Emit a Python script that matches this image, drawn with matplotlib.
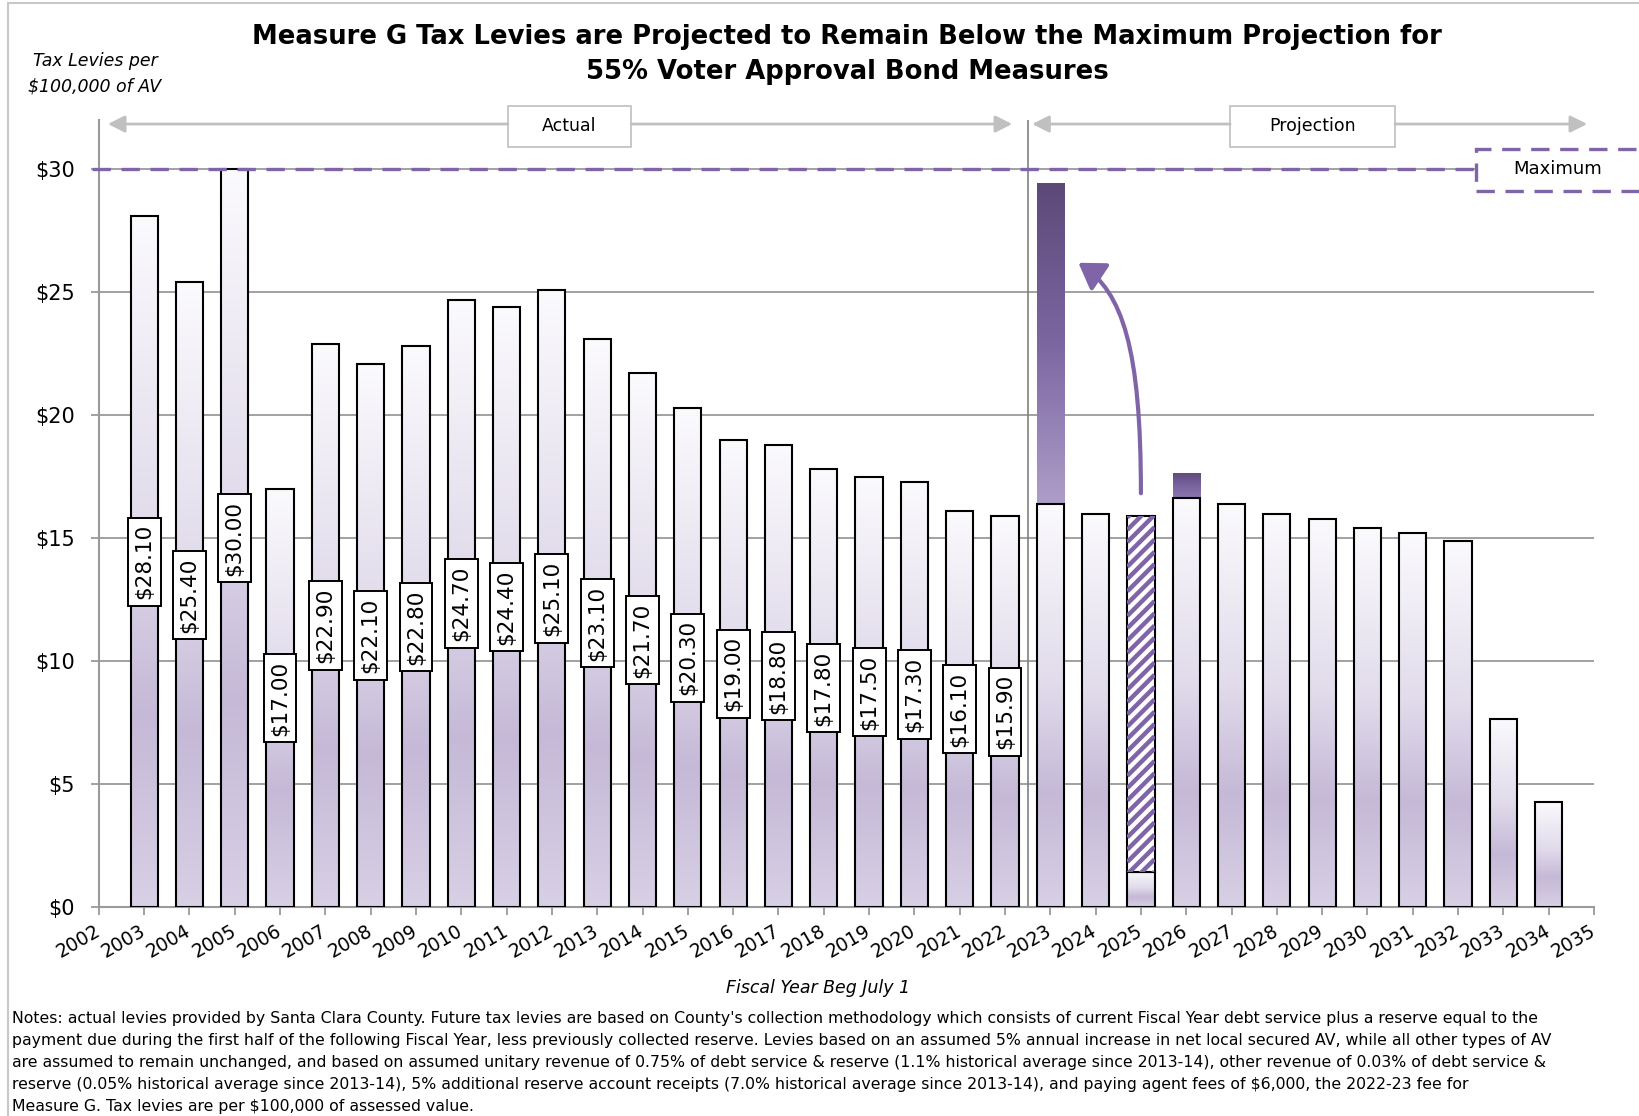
import numpy as np
import matplotlib.pyplot as plt
from matplotlib.colors import LinearSegmentedColormap
from matplotlib.patches import Rectangle, FancyArrowPatch
from matplotlib.path import Path
from matplotlib.lines import Line2D

plt.rcParams['font.family'] = ['DejaVu Sans']
plt.rcParams['text.parse_math'] = False

# ---- data ---------------------------------------------------------------
years = list(range(2002, 2036))                 # x tick labels
actual_years = list(range(2003, 2023))
actual_levy = [28.10, 25.40, 30.00, 17.00, 22.90, 22.10, 22.80, 24.70, 24.40, 25.10,
               23.10, 21.70, 20.30, 19.00, 18.80, 17.80, 17.50, 17.30, 16.10, 15.90]
proj_years = list(range(2023, 2035))
proj_levy = [16.40, 16.00, 15.90, 16.65, 16.40, 16.00, 15.80, 15.40, 15.20, 14.90, 7.65, 4.30]
max_top_2023 = 29.45      # levy at the maximum projection in 2023
cap_top_2026 = 17.65      # small top-up in 2026
base_2025 = 1.45          # levy under the hatched 2025 block
max_levy = 30.0
y_ticks = [0, 5, 10, 15, 20, 25, 30]

notes = [
    "Notes: actual levies provided by Santa Clara County. Future tax levies are based on County's collection methodology which consists of current Fiscal Year debt service plus a reserve equal to the",
    "payment due during the first half of the following Fiscal Year, less previously collected reserve. Levies based on an assumed 5% annual increase in net local secured AV, while all other types of AV",
    "are assumed to remain unchanged, and based on assumed unitary revenue of 0.75% of debt service & reserve (1.1% historical average since 2013-14), other revenue of 0.03% of debt service &",
    "reserve (0.05% historical average since 2013-14), 5% additional reserve account receipts (7.0% historical average since 2013-14), and paying agent fees of $6,000, the 2022-23 fee for",
    "Measure G. Tax levies are per $100,000 of assessed value.",
]

# ---- styling ------------------------------------------------------------
W = 0.6
PURPLE = '#7f64a8'
GRID = '#9a9a9a'
light = LinearSegmentedColormap.from_list(
    'light', [(0, '#fbfafd'), (0.45, '#e1dbeb'), (0.72, '#c5b9d7'), (1, '#d8d0e5')])
deep = LinearSegmentedColormap.from_list('deep', ['#5d4978', '#7c66a1', '#ae9dc9'])
capmap = LinearSegmentedColormap.from_list('cap', ['#5f4b7c', '#7a64a0', '#8c76b0'])
ramp = np.linspace(0, 1, 256).reshape(-1, 1)

FW, FH = 1639, 1116
fig = plt.figure(figsize=(FW / 100, FH / 100), dpi=100)
ax = fig.add_axes([98.8 / FW, 1 - 907.3 / FH, 1495.2 / FW, 787.2 / FH])
XMAX, YMAX = len(years) - 1, 32
px_x = 1495.2 / XMAX
px_y = 787.2 / YMAX


def fx(px):
    return px / FW


def fy(py):
    return 1 - py / FH


def fill_gradient(patch, cmap):
    x0, y0 = patch.get_x(), patch.get_y()
    w, h = patch.get_width(), patch.get_height()
    im = ax.imshow(ramp, cmap=cmap, aspect='auto', origin='upper',
                   extent=(x0, x0 + w, y0, y0 + h), interpolation='bilinear',
                   zorder=patch.get_zorder() - 0.1)
    im.set_clip_path(patch)


def pos(yr):
    return yr - years[0]


# actual levies with value boxes
xa = [pos(y) for y in actual_years]
bars = ax.bar(xa, actual_levy, W, facecolor='none', edgecolor='black', lw=1.5, zorder=3)
for b in bars:
    fill_gradient(b, light)
for x, v in zip(xa, actual_levy):
    ax.text(x, v / 2, f"${v:.2f}", rotation=90, ha='center', va='center', fontsize=15.5,
            zorder=6, bbox=dict(boxstyle='square,pad=0.3', fc='white', ec='black', lw=1.4))

# projected levies
xp = [pos(y) for y in proj_years]
for x, v, yr in zip(xp, proj_levy, proj_years):
    if yr == 2025:
        b = ax.bar(x, base_2025, W, facecolor='none', edgecolor='black', lw=1.5, zorder=3)[0]
        fill_gradient(b, light)
        h = ax.bar(x, v - base_2025, W, bottom=base_2025, facecolor='white',
                   edgecolor='black', lw=1.5, zorder=3)[0]
        # diagonal stripes clipped to the hatched block
        k = px_x / px_y
        x0 = x - W / 2
        for c in np.arange(base_2025 - k * W, v, 12.3 / px_y):
            ln, = ax.plot([x0, x0 + W], [c, c + k * W], color=PURPLE, lw=3.2,
                          solid_capstyle='butt', zorder=3.5)
            ln.set_clip_path(h)
        continue
    b = ax.bar(x, v, W, facecolor='none', edgecolor='black', lw=1.5, zorder=3)[0]
    fill_gradient(b, light)

# maximum-projection segments
x23 = pos(2023)
seg = ax.bar(x23, max_top_2023 - proj_levy[0], W, bottom=proj_levy[0],
             facecolor='none', edgecolor='none', zorder=3)[0]
fill_gradient(seg, deep)
x26 = pos(2026)
seg = ax.bar(x26, cap_top_2026 - proj_levy[3], W, bottom=proj_levy[3],
             facecolor='none', edgecolor='none', zorder=3)[0]
fill_gradient(seg, capmap)

# divider between actual and projection
ax.plot([20.5, 20.5], [0, YMAX], color='#808080', lw=1.2, zorder=2)

# maximum line and tag
ax.plot([-0.15, 30.39], [max_levy, max_levy], color=PURPLE, lw=2.4,
        ls=(0, (5.5, 3.2)), clip_on=False, zorder=4)
ax.add_patch(Rectangle((30.39, 29.13), 4.5, 1.7, fc='white', ec=PURPLE, lw=2.4,
                       ls=(0, (5.5, 3.2)), clip_on=False, zorder=4))
ax.text(32.2, max_levy, "Maximum", ha='center', va='center', fontsize=13, zorder=5)

# period boxes with arrows
ay = 31.84
for (l, r), label, (ae, be) in [((9.03, 11.75), "Actual", (0.2, 20.16)),
                                ((24.97, 28.61), "Projection", (20.6, 32.85))]:
    ax.add_patch(Rectangle((l, 30.9), r - l, 1.67, fc='white', ec='#bfbfbf', lw=1.2,
                           clip_on=False, zorder=5))
    ax.text((l + r) / 2, 31.74, label, ha='center', va='center', fontsize=12.5, zorder=6)
    for a, b in [(l, ae), (r, be)]:
        ax.add_patch(FancyArrowPatch((a, ay), (b, ay), arrowstyle='-|>,head_length=0.6,head_width=0.3',
                                     mutation_scale=17, color='#c0c0c0', lw=2,
                                     shrinkA=0, shrinkB=0, clip_on=False, zorder=5))

# curved arrow pointing to the maximum projection
curve = Path([(23.0, 16.83), (23.0, 22.7), (22.6, 25.0), (21.62, 26.2)],
             [Path.MOVETO, Path.CURVE4, Path.CURVE4, Path.CURVE4])
ax.add_patch(FancyArrowPatch(path=curve, arrowstyle='-|>,head_length=0.7,head_width=0.45',
                             mutation_scale=22, color=PURPLE, lw=3, shrinkA=0, shrinkB=0,
                             zorder=5))

# axes
ax.set_xlim(0, XMAX)
ax.set_ylim(0, YMAX)
ax.set_axisbelow(True)
ax.yaxis.grid(True, color=GRID, lw=1.3)
ax.set_yticks(y_ticks)
ax.set_yticklabels([f"${t}" for t in y_ticks], fontsize=15)
ax.set_xticks(range(len(years)))
ax.set_xticklabels([str(y) for y in years], fontsize=13.5)
plt.setp(ax.get_xticklabels(), rotation=30, ha='right', va='center', rotation_mode='anchor')
ax.tick_params(axis='x', length=6, color=GRID, width=1.3, pad=10)
ax.tick_params(axis='y', length=6, color=GRID, width=1.3, pad=11)
for s in ['top', 'right']:
    ax.spines[s].set_visible(False)
for s in ['left', 'bottom']:
    ax.spines[s].set_color(GRID)
    ax.spines[s].set_linewidth(1.5)

# titles and captions
fig.text(fx(847), fy(36.6), "Measure G Tax Levies are Projected to Remain Below the Maximum Projection for",
         ha='center', va='center', fontsize=18.6, fontweight='bold')
fig.text(fx(847), fy(72), "55% Voter Approval Bond Measures",
         ha='center', va='center', fontsize=18.6, fontweight='bold')
fig.text(fx(95), fy(60.6), "Tax Levies per", ha='center', va='center', fontsize=12.5, style='italic')
fig.text(fx(95), fy(86.8), "$100,000 of AV", ha='center', va='center', fontsize=12.5, style='italic')
fig.text(fx(818), fy(988), "Fiscal Year Beg July 1", ha='center', va='center', fontsize=12.5,
         style='italic')
for i, line in enumerate(notes):
    fig.text(fx(12.5), fy(1019 + 21.8 * i), line, ha='left', va='center', fontsize=11.3)

# outer frame
fig.add_artist(Line2D([fx(8), 1], [fy(3), fy(3)], color='#c8c8c8', lw=1.5))
fig.add_artist(Line2D([fx(8), fx(8)], [0, fy(3)], color='#c8c8c8', lw=1.5))

fig.savefig('out.png', dpi=100)
